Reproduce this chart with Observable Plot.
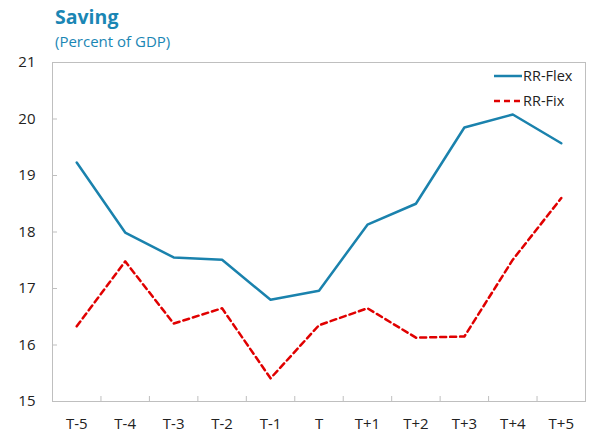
<!DOCTYPE html>
<html>
<head>
<meta charset="utf-8">
<script src="https://cdn.jsdelivr.net/npm/d3@7"></script>
<script src="https://cdn.jsdelivr.net/npm/@observablehq/plot@0.6"></script>
<style>
  body { margin: 0; background: #fff; font-family: "Open Sans", "Noto Sans", sans-serif; }
  #wrap { position: relative; width: 595px; height: 445px; }
  #title { position: absolute; left: 55px; top: 3px; font-size: 19.5px; font-weight: 700; color: #1a86b4; }
  #subtitle { position: absolute; left: 55px; top: 31px; font-size: 15px; color: #1a86b4; }
  #chart { position: absolute; left: 0; top: 52px; }
  #legend { position: absolute; left: 494px; top: 63px; font-size: 14.5px; color: #222; }
  #legend div { display: flex; align-items: center; height: 25px; }
  #legend svg { margin-right: 1px; }
</style>
</head>
<body>
<div id="wrap">
  <div id="title">Saving</div>
  <div id="subtitle">(Percent of GDP)</div>
  <div id="chart"></div>
  <div id="legend"></div>
</div>
<script>
const categories = ["T-5","T-4","T-3","T-2","T-1","T","T+1","T+2","T+3","T+4","T+5"];
const rrFlex = [19.23, 17.99, 17.55, 17.51, 16.80, 16.96, 18.13, 18.50, 19.85, 20.08, 19.57];
const rrFix  = [16.33, 17.48, 16.38, 16.65, 15.41, 16.35, 16.65, 16.13, 16.15, 17.51, 18.60];
const yTicks = [15, 16, 17, 18, 19, 20, 21];
const seriesNames = ["RR-Flex", "RR-Fix"];
const seriesColors = ["#1a82ad", "#e00000"];
const seriesDash = [null, "6,4"];

const idx = categories.map((_, i) => i);
const boundaries = categories.slice(1).map((_, i) => i + 0.5);
const rows = [];
[rrFlex, rrFix].forEach((arr, s) => arr.forEach((v, i) => rows.push({series: seriesNames[s], i, v})));

const chart = Plot.plot({
  width: 595,
  height: 393,
  marginLeft: 52,
  marginRight: 10,
  marginTop: 10,
  marginBottom: 44,
  style: {fontFamily: "'Open Sans', 'Noto Sans', sans-serif", fontSize: "15px", color: "#222"},
  x: {type: "linear", domain: [-0.5, categories.length - 0.5]},
  y: {domain: [15, 21]},
  marks: [
    Plot.frame({stroke: "#bfbfbf"}),
    Plot.axisX({ticks: idx, tickSize: 0, tickPadding: 17, tickFormat: i => categories[i], fontSize: 15, label: null}),
    Plot.axisX({ticks: boundaries, tickSize: 5, dy: -5, tickFormat: () => "", stroke: "#bfbfbf", label: null}),
    Plot.axisY({ticks: yTicks, tickSize: 0, tickPadding: 17, tickFormat: d3.format("d"), fontSize: 15, label: null}),
    Plot.axisY({ticks: yTicks.slice(1, -1), tickSize: 5, dx: 5, tickFormat: () => "", stroke: "#bfbfbf", label: null}),
    ...seriesNames.map((name, s) => Plot.line(rows.filter(d => d.series === name), {
      x: "i", y: "v", stroke: seriesColors[s], strokeWidth: 2.5, strokeDasharray: seriesDash[s]
    }))
  ]
});
document.getElementById("chart").appendChild(chart);

const legend = document.getElementById("legend");
seriesNames.forEach((name, s) => {
  const row = document.createElement("div");
  row.innerHTML = `<svg width="28" height="10"><line x1="0" y1="5" x2="28" y2="5" stroke="${seriesColors[s]}" stroke-width="2.5" ${seriesDash[s] ? `stroke-dasharray="${seriesDash[s]}"` : ""}/></svg><span>${name}</span>`;
  legend.appendChild(row);
});
</script>
</body>
</html>
